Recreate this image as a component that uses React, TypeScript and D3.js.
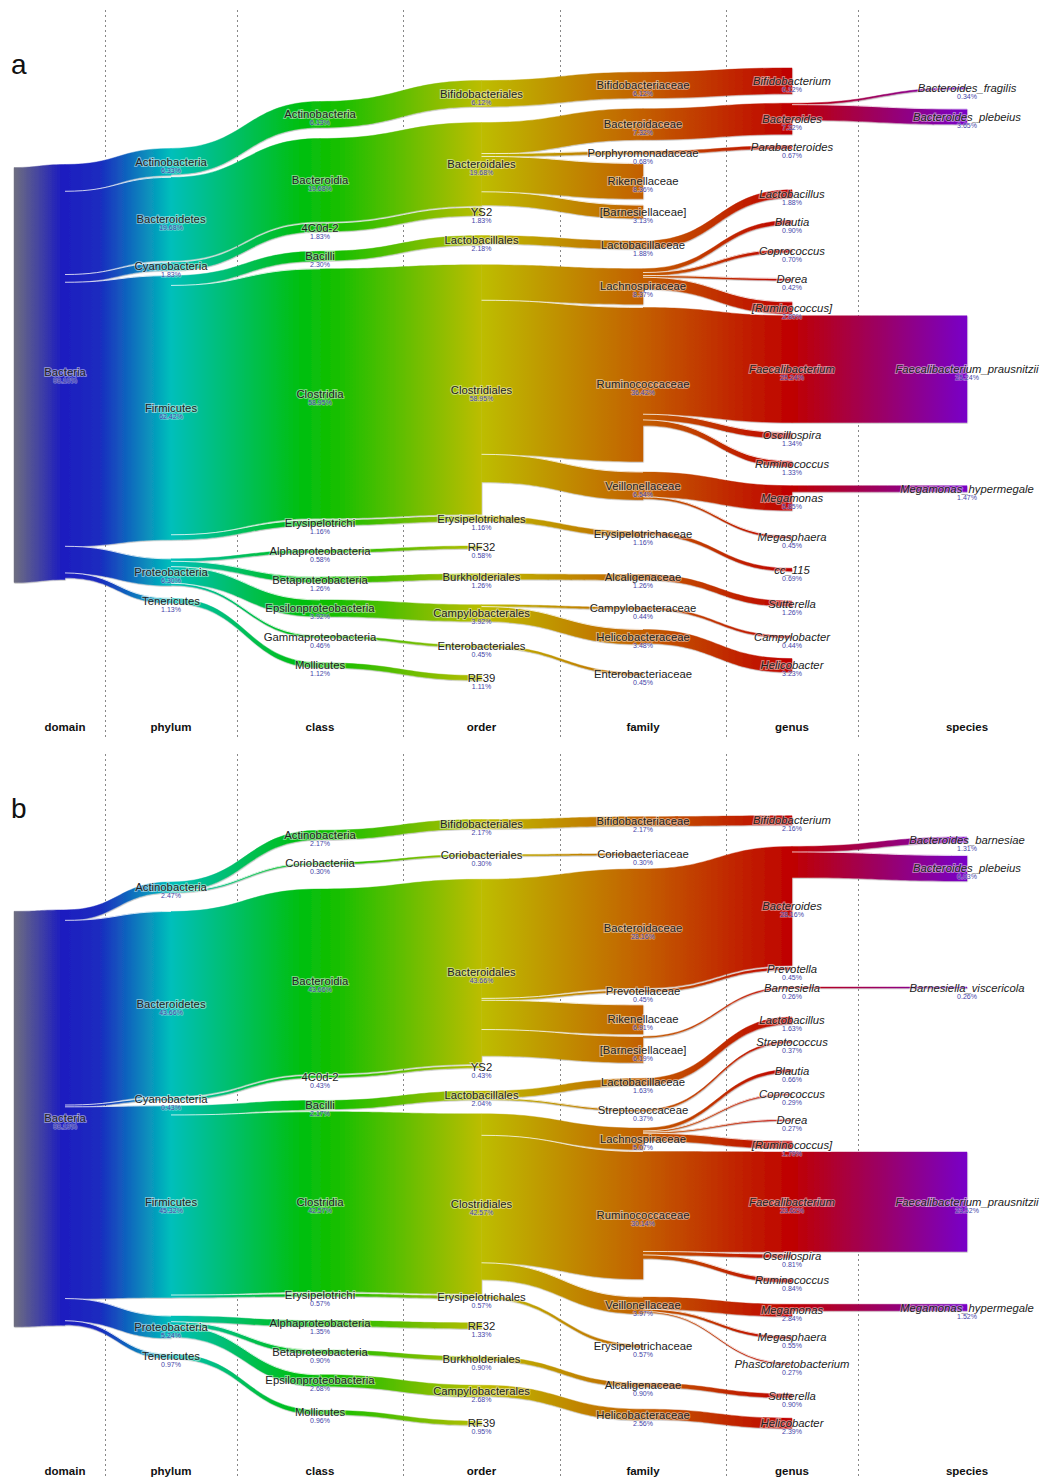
import React, { useMemo } from "react";
import * as d3 from "d3";

const ranks = ["domain", "phylum", "class", "order", "family", "genus", "species"];

// rows: [depth, taxon, percent]; the parent of a row is the last row one level up
const taxaA: [number, string, number][] = [
  [0, "Bacteria", 98.1],
  [1, "Actinobacteria", 6.33],
  [2, "Actinobacteria", 6.13],
  [3, "Bifidobacteriales", 6.12],
  [4, "Bifidobacteriaceae", 6.12],
  [5, "Bifidobacterium", 6.12],
  [1, "Bacteroidetes", 19.68],
  [2, "Bacteroidia", 19.68],
  [3, "Bacteroidales", 19.68],
  [4, "Bacteroidaceae", 7.32],
  [5, "Bacteroides", 7.32],
  [6, "Bacteroides_fragilis", 0.34],
  [6, "Bacteroides_plebeius", 3.65],
  [4, "Porphyromonadaceae", 0.68],
  [5, "Parabacteroides", 0.67],
  [4, "Rikenellaceae", 8.36],
  [4, "[Barnesiellaceae]", 3.13],
  [1, "Cyanobacteria", 1.83],
  [2, "4C0d-2", 1.83],
  [3, "YS2", 1.83],
  [1, "Firmicutes", 62.42],
  [2, "Bacilli", 2.3],
  [3, "Lactobacillales", 2.18],
  [4, "Lactobacillaceae", 1.88],
  [5, "Lactobacillus", 1.88],
  [2, "Clostridia", 58.95],
  [3, "Clostridiales", 58.95],
  [4, "Lachnospiraceae", 8.37],
  [5, "Blautia", 0.9],
  [5, "Coprococcus", 0.7],
  [5, "Dorea", 0.42],
  [5, "[Ruminococcus]", 2.8],
  [4, "Ruminococcaceae", 36.42],
  [5, "Faecalibacterium", 25.24],
  [6, "Faecalibacterium_prausnitzii", 25.24],
  [5, "Oscillospira", 1.34],
  [5, "Ruminococcus", 1.33],
  [4, "Veillonellaceae", 6.54],
  [5, "Megamonas", 5.85],
  [6, "Megamonas_hypermegale", 1.47],
  [5, "Megasphaera", 0.45],
  [2, "Erysipelotrichi", 1.16],
  [3, "Erysipelotrichales", 1.16],
  [4, "Erysipelotrichaceae", 1.16],
  [5, "cc_115", 0.69],
  [1, "Proteobacteria", 6.3],
  [2, "Alphaproteobacteria", 0.58],
  [3, "RF32", 0.58],
  [2, "Betaproteobacteria", 1.26],
  [3, "Burkholderiales", 1.26],
  [4, "Alcaligenaceae", 1.26],
  [5, "Sutterella", 1.26],
  [2, "Epsilonproteobacteria", 3.92],
  [3, "Campylobacterales", 3.92],
  [4, "Campylobacteraceae", 0.44],
  [5, "Campylobacter", 0.44],
  [4, "Helicobacteraceae", 3.48],
  [5, "Helicobacter", 3.23],
  [2, "Gammaproteobacteria", 0.46],
  [3, "Enterobacteriales", 0.45],
  [4, "Enterobacteriaceae", 0.45],
  [1, "Tenericutes", 1.13],
  [2, "Mollicutes", 1.12],
  [3, "RF39", 1.11],
];

const taxaB: [number, string, number][] = [
  [0, "Bacteria", 98.19],
  [1, "Actinobacteria", 2.47],
  [2, "Actinobacteria", 2.17],
  [3, "Bifidobacteriales", 2.17],
  [4, "Bifidobacteriaceae", 2.17],
  [5, "Bifidobacterium", 2.16],
  [2, "Coriobacteriia", 0.3],
  [3, "Coriobacteriales", 0.3],
  [4, "Coriobacteriaceae", 0.3],
  [1, "Bacteroidetes", 43.66],
  [2, "Bacteroidia", 43.66],
  [3, "Bacteroidales", 43.66],
  [4, "Bacteroidaceae", 28.16],
  [5, "Bacteroides", 28.16],
  [6, "Bacteroides_barnesiae", 1.31],
  [6, "Bacteroides_plebeius", 6.03],
  [4, "Prevotellaceae", 0.45],
  [5, "Prevotella", 0.45],
  [4, "Rikenellaceae", 6.91],
  [4, "[Barnesiellaceae]", 6.19],
  [5, "Barnesiella", 0.26],
  [6, "Barnesiella_viscericola", 0.26],
  [1, "Cyanobacteria", 0.43],
  [2, "4C0d-2", 0.43],
  [3, "YS2", 0.43],
  [1, "Firmicutes", 45.32],
  [2, "Bacilli", 2.17],
  [3, "Lactobacillales", 2.04],
  [4, "Lactobacillaceae", 1.63],
  [5, "Lactobacillus", 1.63],
  [4, "Streptococcaceae", 0.37],
  [5, "Streptococcus", 0.37],
  [2, "Clostridia", 42.57],
  [3, "Clostridiales", 42.57],
  [4, "Lachnospiraceae", 5.07],
  [5, "Blautia", 0.66],
  [5, "Coprococcus", 0.29],
  [5, "Dorea", 0.27],
  [5, "[Ruminococcus]", 1.79],
  [4, "Ruminococcaceae", 30.14],
  [5, "Faecalibacterium", 23.62],
  [6, "Faecalibacterium_prausnitzii", 23.52],
  [5, "Oscillospira", 0.81],
  [5, "Ruminococcus", 0.84],
  [4, "Veillonellaceae", 3.97],
  [5, "Megamonas", 2.84],
  [6, "Megamonas_hypermegale", 1.52],
  [5, "Megasphaera", 0.55],
  [5, "Phascolarctobacterium", 0.27],
  [2, "Erysipelotrichi", 0.57],
  [3, "Erysipelotrichales", 0.57],
  [4, "Erysipelotrichaceae", 0.57],
  [1, "Proteobacteria", 5.24],
  [2, "Alphaproteobacteria", 1.35],
  [3, "RF32", 1.33],
  [2, "Betaproteobacteria", 0.9],
  [3, "Burkholderiales", 0.9],
  [4, "Alcaligenaceae", 0.9],
  [5, "Sutterella", 0.9],
  [2, "Epsilonproteobacteria", 2.68],
  [3, "Campylobacterales", 2.68],
  [4, "Helicobacteraceae", 2.56],
  [5, "Helicobacter", 2.39],
  [1, "Tenericutes", 0.97],
  [2, "Mollicutes", 0.96],
  [3, "RF39", 0.95],
];

const W = 1049;
const H = 1479;
const colEdges = [25, 105, 237, 403, 560, 726, 858, 1076];
const ROOT_X = 14;
const KY = 4.23; // px per percent
const TOP = 76;
const BOTTOM = 682;
const ROOT_LIFT = 4;
const LABEL_SEP = 28.5; // preferred distance between label centres
const LABEL_MIN = 19; // allowed only in columns that barely fit
const BAND_GAP = 2;
const SPREAD = 8; // pull toward an even spread, for crowded columns
const CHILD_W = 0.35; // how much a node follows its children
const PANEL_SHIFT = 744;

const gradX = [14, 62, 100, 171, 300, 335, 482, 643, 792, 967];
const gradC = ["#6e6e80", "#1c1cc0", "#1a2cbf", "#00bfbb", "#00bf10", "#14bf00", "#bdbd00", "#c35f00", "#bf0000", "#7800c8"];

const colX = (d: number) => (d < 0 ? ROOT_X : (colEdges[d] + colEdges[d + 1]) / 2);

interface TNode {
  name: string;
  depth: number;
  value: number;
  h: number;
  parent: TNode | null;
  children: TNode[];
  off: number;
  rel: number;
  c: number;
  anchor: number;
}

function buildTree(rows: [number, string, number][]) {
  const mk = (name: string, depth: number, v: number, parent: TNode | null): TNode => ({
    name, depth, value: v, h: v * KY, parent, children: [], off: 0, rel: 0, c: 0, anchor: 0,
  });
  const root = mk("", -1, rows[0][2], null);
  const stack: TNode[] = [root];
  const nodes: TNode[] = [];
  for (const [d, name, v] of rows) {
    const parent = stack[d];
    const n = mk(name, d, v, parent);
    parent.children.push(n);
    stack[d + 1] = n;
    nodes.push(n);
  }
  const setOff = (p: TNode) => {
    let o = 0;
    p.children.forEach((k) => {
      k.off = o;
      k.rel = -p.h / 2 + o + k.h / 2;
      o += k.h;
      setOff(k);
    });
  };
  setOff(root);
  return { root, nodes };
}

// weighted pool-adjacent-violators
function isotonic(u: number[], w: number[]) {
  const blocks: { v: number; w: number; n: number }[] = [];
  u.forEach((x, i) => {
    blocks.push({ v: x, w: w[i], n: 1 });
    while (blocks.length > 1 && blocks[blocks.length - 2].v > blocks[blocks.length - 1].v) {
      const b = blocks.pop()!;
      const a = blocks[blocks.length - 1];
      a.v = (a.v * a.w + b.v * b.w) / (a.w + b.w);
      a.w += b.w;
      a.n += b.n;
    }
  });
  const out: number[] = [];
  blocks.forEach((b) => {
    for (let k = 0; k < b.n; k++) out.push(b.v);
  });
  return out;
}

function cumSeps(col: TNode[], L0: number, room: number) {
  const sepAt = (i: number, L: number) => Math.max(L, (col[i].h + col[i + 1].h) / 2 + BAND_GAP);
  const total = (L: number) => d3.sum(d3.range(col.length - 1), (i) => sepAt(i, L));
  let L = L0;
  while (L > 4 && total(L) > room) L -= 0.25;
  const out = [0];
  d3.range(col.length - 1).forEach((i) => out.push(out[i] + sepAt(i, L)));
  return out;
}

// place nodes so that links bend little, crowded columns stay spread, labels stay apart
function layoutTree(root: TNode, nodes: TNode[], top: number, bottom: number) {
  const room = bottom - top;
  const cols = ranks.map((_, d) => nodes.filter((n) => n.depth === d));
  root.c = (top + bottom) / 2 - ROOT_LIFT;
  const pref = cols.map((col) => cumSeps(col, LABEL_SEP, room * 2));
  const crowd = cols.map((col, d) => pref[d][col.length - 1] / room);
  const hard = cols.map((col, d) => cumSeps(col, crowd[d] > 0.95 ? LABEL_MIN : LABEL_SEP, room));
  const prefFit = cols.map((col) => cumSeps(col, LABEL_SEP, room));
  const spreadW = crowd.map((c) => SPREAD * Math.min(1, Math.max(0, (c - 0.7) / 0.3)));
  cols.forEach((col, d) => {
    const n = col.length;
    const free = room - prefFit[d][n - 1];
    col.forEach((node, i) => {
      node.anchor = n > 1 ? top + prefFit[d][i] + (free * i) / (n - 1) : (top + bottom) / 2;
      node.c = node.anchor;
    });
  });
  const wt = (n: TNode) => Math.pow(n.value, 0.8) + 0.5;
  const relax = (d: number) => {
    const col = cols[d];
    const S = hard[d];
    const sp = spreadW[d];
    const u: number[] = [];
    const ws: number[] = [];
    col.forEach((n, i) => {
      let sw = wt(n) + sp;
      let s = wt(n) * (n.parent!.c + n.rel) + sp * n.anchor;
      n.children.forEach((k) => {
        sw += CHILD_W * wt(k);
        s += CHILD_W * wt(k) * (k.c - k.rel);
      });
      u.push(s / sw - S[i]);
      ws.push(sw);
    });
    const dv = isotonic(u, ws);
    const hi = bottom - S[col.length - 1];
    col.forEach((n, i) => (n.c = Math.min(hi, Math.max(top, dv[i])) + S[i]));
  };
  for (let it = 0; it < 400; it++) {
    for (let d = 0; d < cols.length; d++) relax(d);
    for (let d = cols.length - 1; d >= 0; d--) relax(d);
  }
}

function edge(x0: number, a: number, x1: number, b: number, p: d3.Path) {
  const xm = (x0 + x1) / 2;
  p.bezierCurveTo(xm, a, xm, b, x1, b);
}

function bandPath(x0: number, a0: number, a1: number, x1: number, b0: number, b1: number) {
  const p = d3.path();
  p.moveTo(x0, a0);
  edge(x0, a0, x1, b0, p);
  p.lineTo(x1, b1);
  edge(x1, b1, x0, a1, p);
  p.closePath();
  return p.toString();
}

function topEdge(x0: number, a0: number, x1: number, b0: number) {
  const p = d3.path();
  p.moveTo(x0, a0);
  edge(x0, a0, x1, b0, p);
  return p.toString();
}

const fmt = (v: number) => v.toFixed(2) + "%";

function Panel({ rows, oy, letter }: { rows: [number, string, number][]; oy: number; letter: string }) {
  const tree = useMemo(() => {
    const t = buildTree(rows);
    layoutTree(t.root, t.nodes, TOP + oy, BOTTOM + oy);
    return t;
  }, [rows, oy]);

  const geo = tree.nodes.map((n) => {
    const p = n.parent!;
    const a0 = p.c - p.h / 2 + n.off;
    const b0 = n.c - n.h / 2;
    return { n, x0: colX(p.depth), x1: colX(n.depth), a0, b0, first: p.children[0] === n };
  });

  return (
    <g>
      {colEdges.slice(1, -1).map((x) => (
        <line key={x} x1={x + 0.5} x2={x + 0.5} y1={10 + oy} y2={740 + oy} stroke="#888" strokeWidth={1} strokeDasharray="2,3" />
      ))}
      <g filter="url(#shadow)">
        {geo.map((g, i) => (
          <path
            key={i}
            d={bandPath(g.x0, g.a0, g.a0 + g.n.h, g.x1, g.b0, g.b0 + g.n.h)}
            fill="url(#rainbow)"
            stroke="url(#rainbow)"
            strokeWidth={0.4}
          />
        ))}
      </g>
      {geo
        .filter((g) => !g.first)
        .map((g, i) => (
          <path key={i} d={topEdge(g.x0, g.a0, g.x1, g.b0)} fill="none" stroke="#fff" strokeOpacity={0.75} strokeWidth={1} />
        ))}
      {tree.nodes.map((n, i) => (
        <g key={i} transform={`translate(${colX(n.depth)},${n.c})`} textAnchor="middle">
          <text
            y={4}
            fontSize={11.3}
            fontStyle={n.depth >= 5 ? "italic" : "normal"}
            fill="#222"
            stroke="#fff"
            strokeWidth={2}
            strokeOpacity={0.45}
            paintOrder="stroke"
          >
            {n.name}
          </text>
          <text y={11} fontSize={7} fill="#4444a8" stroke="#fff" strokeWidth={1.5} strokeOpacity={0.35} paintOrder="stroke">
            {fmt(n.value)}
          </text>
        </g>
      ))}
      {ranks.map((r, d) => (
        <text key={r} x={colX(d)} y={731 + oy} textAnchor="middle" fontSize={11.5} fontWeight="bold" fill="#111">
          {r}
        </text>
      ))}
      <text x={11} y={74 + oy} fontSize={28} fill="#111">
        {letter}
      </text>
    </g>
  );
}

export default function App() {
  return (
    <svg
      width={W}
      height={H}
      viewBox={`0 0 ${W} ${H}`}
      style={{ position: "absolute", left: 0, top: 0, background: "#fff" }}
      fontFamily="'Liberation Sans', Arial, sans-serif"
    >
      <defs>
        <linearGradient id="rainbow" gradientUnits="userSpaceOnUse" x1={0} x2={W} y1={0} y2={0}>
          {gradX.map((x, i) => (
            <stop key={i} offset={x / W} stopColor={gradC[i]} />
          ))}
        </linearGradient>
        <filter id="shadow" filterUnits="userSpaceOnUse" x={0} y={0} width={W} height={H}>
          <feDropShadow dx={0.5} dy={0.8} stdDeviation={0.6} floodColor="#000" floodOpacity={0.3} />
        </filter>
      </defs>
      <rect width={W} height={H} fill="#fff" />
      <Panel rows={taxaA} oy={0} letter="a" />
      <Panel rows={taxaB} oy={PANEL_SHIFT} letter="b" />
    </svg>
  );
}
